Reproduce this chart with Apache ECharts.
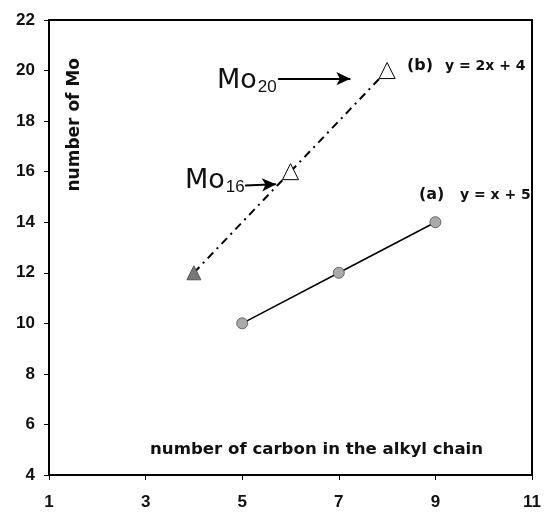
<!DOCTYPE html>
<html><head><meta charset="utf-8">
<script src="https://cdn.jsdelivr.net/npm/echarts@6/dist/echarts.min.js"></script>
<style>html,body{margin:0;padding:0;background:#fff}#c{width:544px;height:512px}</style>
</head><body><div id="c"></div>
<script>
var xTicks = [1, 3, 5, 7, 9, 11];
var yTicks = [4, 6, 8, 10, 12, 14, 16, 18, 20, 22];
var seriesA = [[5, 10], [7, 12], [9, 14]];
var seriesB = [[4, 12], [6, 16], [8, 20]];
var arrowMo20 = [[5.74, 19.68], [7.24, 19.68]];
var arrowMo16 = [[5.06, 15.45], [5.7, 15.5]];

var chart = echarts.init(document.getElementById('c'));
var font = '"DejaVu Sans", Verdana, sans-serif';
var font2 = '"Liberation Sans", Arial, sans-serif';
chart.setOption({
  animation: false,
  grid: {left: 49, right: 9, top: 20, bottom: 37, show: true, borderColor: '#000', borderWidth: 2},
  xAxis: {type: 'value', min: xTicks[0], max: xTicks[xTicks.length-1], interval: 2,
    axisLine: {lineStyle: {color: '#000', width: 2}},
    axisTick: {length: 5, lineStyle: {color: '#000', width: 1}},
    axisLabel: {color: '#111', fontFamily: font2, fontWeight: 'bold', fontSize: 17, margin: 19},
    splitLine: {show: false}},
  yAxis: {type: 'value', min: yTicks[0], max: yTicks[yTicks.length-1], interval: 2,
    axisLine: {show: true, lineStyle: {color: '#000', width: 2}},
    axisTick: {show: true, length: 5, lineStyle: {color: '#000', width: 1}},
    axisLabel: {color: '#111', fontFamily: font2, fontWeight: 'bold', fontSize: 17, margin: 14},
    splitLine: {show: false}},
  series: [
    {type: 'line', data: seriesA, symbol: 'circle', symbolSize: 11,
      lineStyle: {color: '#000', width: 1.5},
      itemStyle: {color: '#aaa', borderColor: '#666', borderWidth: 1}},
    {type: 'line', data: seriesB.map(function (p, i) {
        return i === 0 ? {value: p, symbolSize: 14, itemStyle: {color: '#777', borderColor: '#555'}} : {value: p};
      }),
      symbol: 'triangle', symbolSize: 16,
      lineStyle: {color: '#000', width: 2, type: [8, 5, 2, 5]},
      itemStyle: {color: '#fff', borderColor: '#000', borderWidth: 1},
      markLine: {silent: true, symbol: ['none', 'arrow'], symbolSize: [10, 14],
        lineStyle: {color: '#000', width: 2, type: 'solid'}, label: {show: false},
        data: [
          [{coord: arrowMo20[0]}, {coord: arrowMo20[1]}],
          [{coord: arrowMo16[0]}, {coord: arrowMo16[1]}]
        ]}}
  ],
  graphic: [
    {type: 'text', left: 66, top: 58, rotation: Math.PI/2, style: {text: 'number of Mo', fill: '#111', font: 'bold 17px ' + font}},
    {type: 'text', left: 150, top: 441, style: {text: 'number of carbon in the alkyl chain', fill: '#111', font: 'bold 16.6px ' + font}},
    {type: 'text', left: 217, top: 67, style: {text: '{m|Mo}{s|20}', rich: {m: {fontSize: 27, fontFamily: font, fill: '#111'}, s: {fontSize: 17, fontFamily: font2, fill: '#111', padding: [14, 0, 0, 1]}}}},
    {type: 'text', left: 185, top: 167, style: {text: '{m|Mo}{s|16}', rich: {m: {fontSize: 27, fontFamily: font, fill: '#111'}, s: {fontSize: 17, fontFamily: font2, fill: '#111', padding: [14, 0, 0, 1]}}}},
    {type: 'text', left: 407, top: 58, style: {text: '(b)', fill: '#111', font: 'bold 16px ' + font}},
    {type: 'text', left: 445, top: 59, style: {text: 'y = 2x + 4', fill: '#111', font: 'bold 14px ' + font}},
    {type: 'text', left: 419, top: 187, style: {text: '(a)', fill: '#111', font: 'bold 16px ' + font}},
    {type: 'text', left: 460, top: 188, style: {text: 'y = x + 5', fill: '#111', font: 'bold 14px ' + font}}
  ]
});
</script></body></html>
